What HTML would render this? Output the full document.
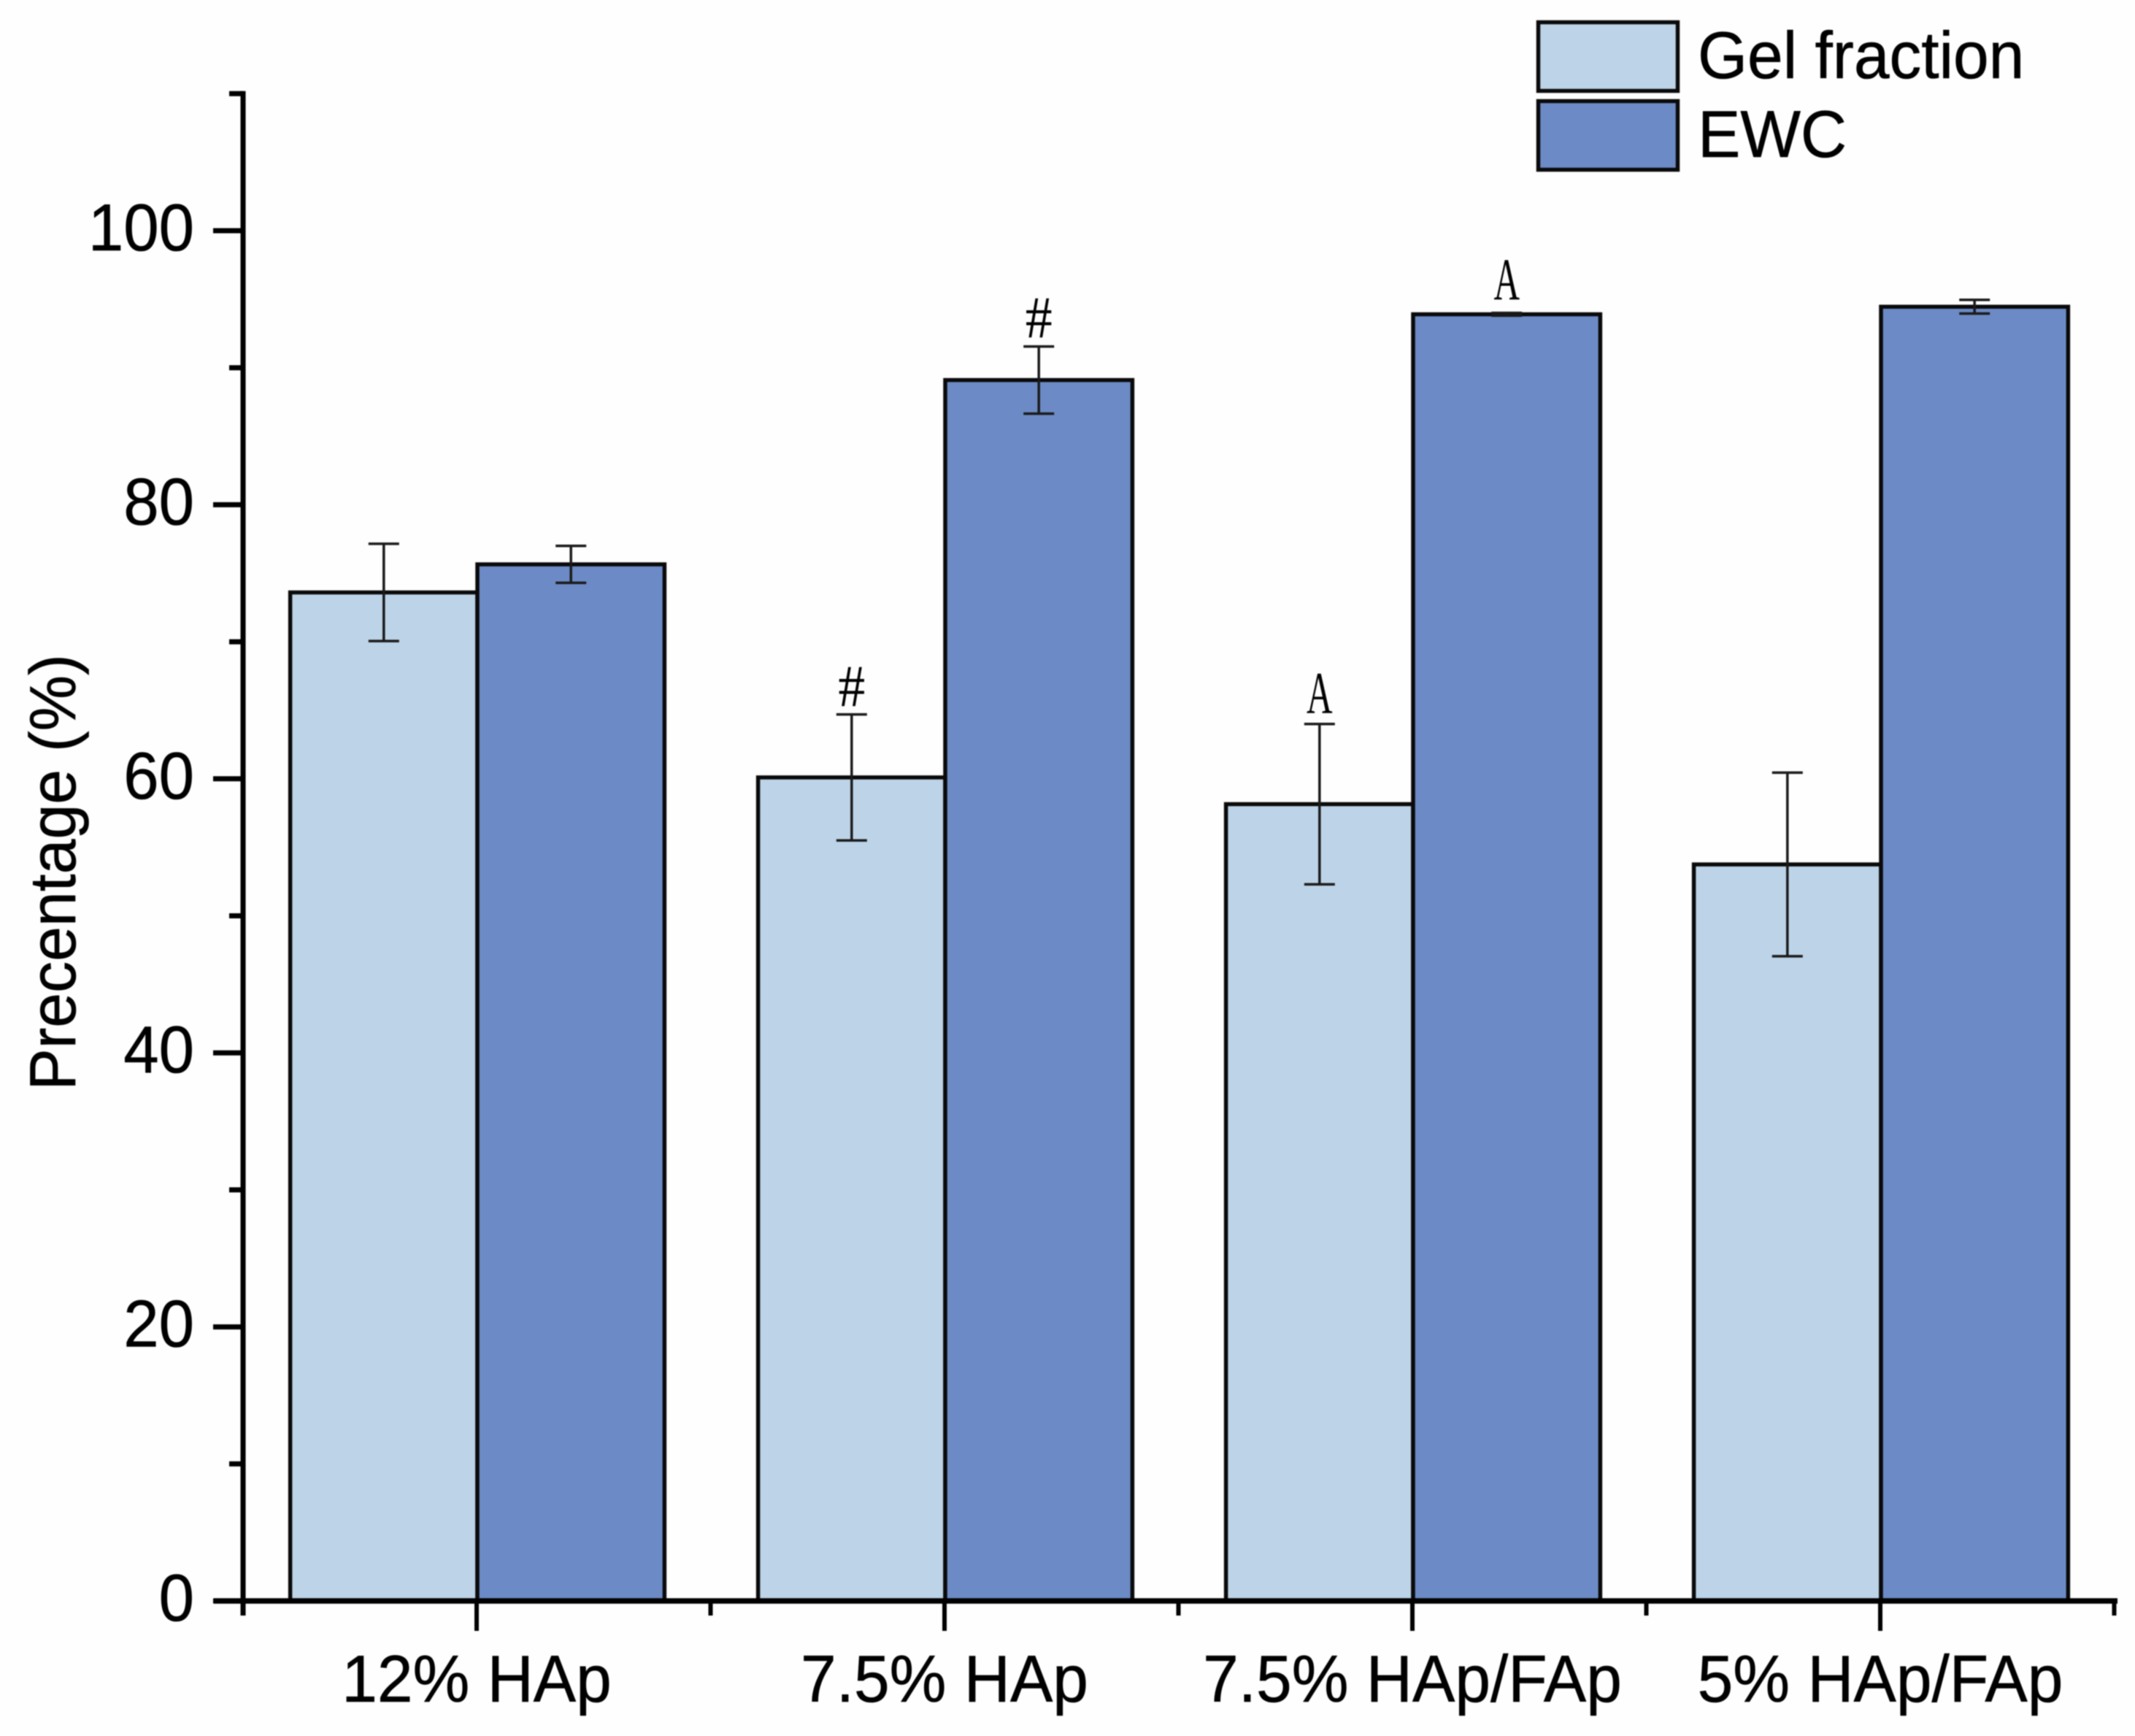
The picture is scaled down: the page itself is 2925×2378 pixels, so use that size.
<!DOCTYPE html>
<html lang="en">
<head>
<meta charset="utf-8">
<title>Gel fraction and EWC chart</title>
<style>
html,body{margin:0;padding:0;background:#fff;}
svg{display:block;filter:blur(0.7px);}
text{font-family:"Liberation Sans",Arial,sans-serif;fill:#000;stroke:#000;stroke-width:0.6px;}
.note{font-family:"Liberation Serif",serif;stroke-width:0;}
</style>
</head>
<body>
<svg id="chart" xmlns="http://www.w3.org/2000/svg" width="2925" height="2378" viewBox="0 0 2925 2378">
  <rect x="0" y="0" width="2925" height="2378" fill="#fefefe"/>
  <g id="bars"></g>
  <g id="errors"></g>
  <g id="notes"></g>
  <g id="axes"></g>
  <text transform="translate(103,1195) rotate(-90) scale(1,1.04)" text-anchor="middle" font-size="86">Precentage (%)</text>
  <g>
    <rect x="2107.5" y="30.5" width="191" height="94" fill="#BDD4E8" stroke="#0a0a0a" stroke-width="5.5"/>
    <text transform="translate(2326,107) scale(1,1.04)" font-size="87.5">Gel fraction</text>
    <rect x="2107.5" y="138.5" width="191" height="94" fill="#6C8BC6" stroke="#0a0a0a" stroke-width="5.5"/>
    <text transform="translate(2326,215) scale(1,1.04)" font-size="87.5">EWC</text>
  </g>
</svg>
<script>
const categories = ["12% HAp", "7.5% HAp", "7.5% HAp/FAp", "5% HAp/FAp"];
const gelValues = [73.6, 60.1, 58.15, 53.75];
const gelErrors = [3.55, 4.6, 5.85, 6.7];
const ewcValues = [75.65, 89.1, 93.9, 94.45];
const ewcErrors = [1.35, 2.45, 0.1, 0.5];
const gelMarks = ["", "#", "A", ""];
const gelMarkLevels = [0, 65.3, 64.8, 0];
const ewcMarks = ["", "#", "A", ""];
const ewcMarkLevels = [0, 92.2, 95.0, 0];
const yMajorTicks = [0, 20, 40, 60, 80, 100];
const yMinorTicks = [10, 30, 50, 70, 90, 110];
const yMax = 110;

const NS = "http://www.w3.org/2000/svg";
const Y0 = 2193, PX_PER_UNIT = 18.77;
const X0 = 654, CAT_STEP = 641, BAR_FRACTION = 0.4;
const AXIS_LEFT = 333, AXIS_RIGHT = 2898;

function yScale(v) { return Y0 - v * PX_PER_UNIT; }
function xScale(i) { return X0 + i * CAT_STEP; }
const barWidth = CAT_STEP * BAR_FRACTION;

function make(tag, attrs, parent) {
  const el = document.createElementNS(NS, tag);
  for (const k in attrs) el.setAttribute(k, attrs[k]);
  parent.appendChild(el);
  return el;
}

const barsG = document.getElementById("bars");
const errorsG = document.getElementById("errors");
const notesG = document.getElementById("notes");
const axesG = document.getElementById("axes");

function drawBar(value, left, fill) {
  const r = make("rect", {
    x: left, y: yScale(value), width: barWidth, height: Y0 - yScale(value),
    fill: fill, stroke: "#0a0a0a", "stroke-width": 5.5
  }, barsG);
  
  
}

function drawError(cx, value, err) {
  const top = yScale(value + err), bottom = yScale(value - err);
  const p = make("path", {
    d: "M" + (cx - 21) + " " + top + "H" + (cx + 21) +
       "M" + cx + " " + top + "V" + bottom +
       "M" + (cx - 21) + " " + bottom + "H" + (cx + 21),
    fill: "none", stroke: "#1a1a1a", "stroke-width": 3.5
  }, errorsG);
  
  
}

function drawMark(cx, level, label) {
  if (!label) return;
  const widthScale = label === "#" ? 0.9 : 0.6;
  const t = make("text", {
    transform: "translate(" + cx + "," + yScale(level) + ") scale(" + widthScale + ",1)",
    "text-anchor": "middle", "font-size": 82, "class": "note"
  }, notesG);
  t.textContent = label;
  
  
}

categories.forEach(function (name, i) {
  const c = xScale(i);
  drawBar(gelValues[i], c - barWidth, "#BDD4E8");
  drawBar(ewcValues[i], c, "#6C8BC6");
});
categories.forEach(function (name, i) {
  const c = xScale(i);
  const gx = c - barWidth / 2, ex = c + barWidth / 2;
  drawError(gx, gelValues[i], gelErrors[i]);
  drawError(ex, ewcValues[i], ewcErrors[i]);
  drawMark(gx, gelMarkLevels[i], gelMarks[i]);
  drawMark(ex, ewcMarkLevels[i], ewcMarks[i]);
});

function line(x1, y1, x2, y2, w) {
  return make("line", { x1: x1, y1: y1, x2: x2, y2: y2, stroke: "#000", "stroke-width": w }, axesG);
}

const yAxisLine = line(AXIS_LEFT, yScale(yMax) - 3.5, AXIS_LEFT, Y0 + 20, 7);



const xAxisLine = line(AXIS_LEFT - 40, Y0, AXIS_RIGHT + 3, Y0, 7.5);



yMajorTicks.forEach(function (v) {
  const y = yScale(v);
  const tick = line(AXIS_LEFT - 41, y, AXIS_LEFT, y, 7);
  
  
  const t = make("text", {
    transform: "translate(266," + (y + 27) + ") scale(1,1.04)",
    "text-anchor": "end", "font-size": 87
  }, axesG);
  t.textContent = String(v);
  
  
});

yMinorTicks.forEach(function (v) {
  const y = yScale(v);
  const tick = line(AXIS_LEFT - 19, y, AXIS_LEFT, y, 7);
  
  
});

categories.forEach(function (name, i) {
  const c = xScale(i) - 1;
  const tick = line(c, Y0, c, Y0 + 41, 6);
  
  
  const minor = line(c + CAT_STEP / 2, Y0, c + CAT_STEP / 2, Y0 + 20, 6);
  
  
  const t = make("text", {
    transform: "translate(" + c + ",2331) scale(1,1.04)",
    "text-anchor": "middle", "font-size": 87.5
  }, axesG);
  t.textContent = name;
  
  
});
</script>
</body>
</html>
